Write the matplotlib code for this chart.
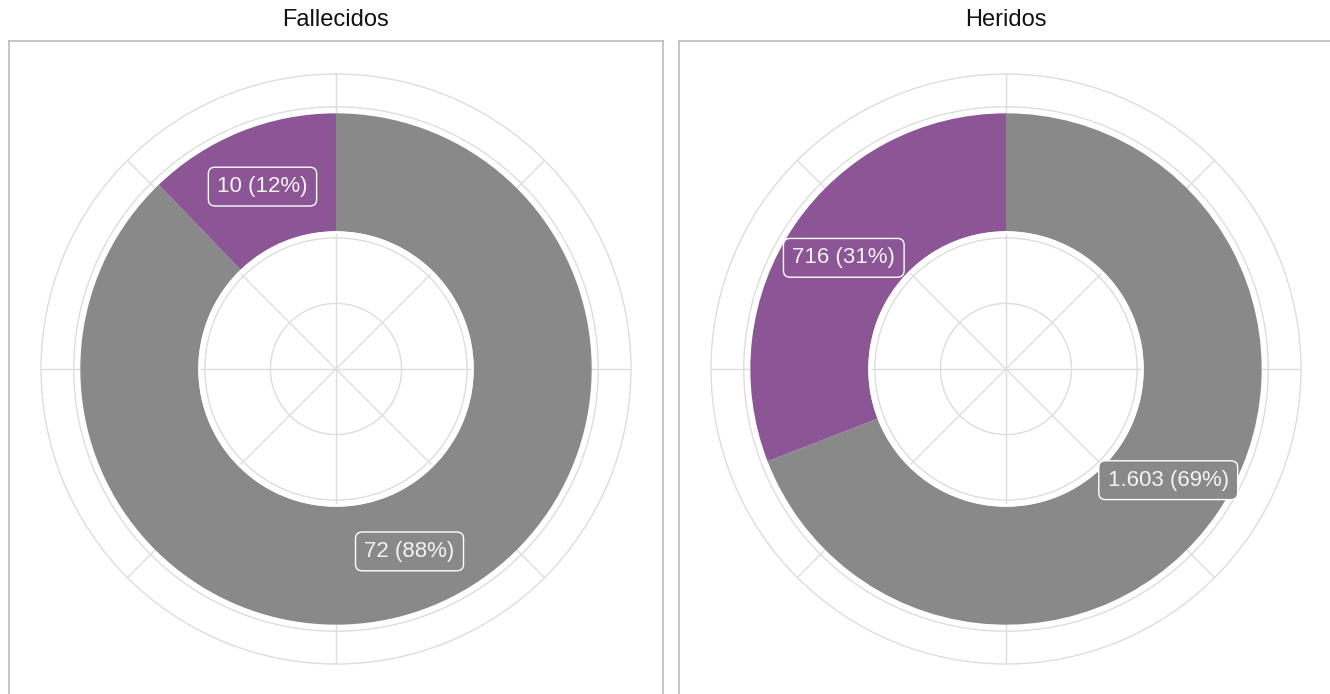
import numpy as np
import matplotlib
matplotlib.use("Agg")
import matplotlib.pyplot as plt

plt.rcParams['font.family'] = ['Liberation Sans', 'DejaVu Sans']

panels = ["Fallecidos", "Heridos"]
categories = ["Otros", "Grupo"]
values = {
    "Fallecidos": [72, 10],
    "Heridos": [1603, 716],
}
labels = {
    "Fallecidos": ["72 (88%)", "10 (12%)"],
    "Heridos": ["1.603 (69%)", "716 (31%)"],
}
colors = ["#898989", "#8C5596"]

W, H = 1330, 694
fig = plt.figure(figsize=(W / 100, H / 100), dpi=100)

inner, outer = 2.1, 3.9
centers_x = [336, 1006]
cy = 369

for name, cx in zip(panels, centers_x):
    # panel frame (bottom runs off the figure)
    fr = fig.add_axes([(cx - 327) / W, (H - (cy + 328)) / H, 654 / W, 656 / H])
    fr.set_xticks([])
    fr.set_yticks([])
    for s in fr.spines.values():
        s.set_color("#BBBBBB")
        s.set_linewidth(1.2)
    fr.patch.set_alpha(0)

    fig.text(cx / W, 1 - 20 / H, name, ha="center", va="center", fontsize=17, color="#111111")

    r = 295
    ax = fig.add_axes([(cx - r) / W, (H - (cy + r)) / H, 2 * r / W, 2 * r / H], projection="polar")
    ax.set_theta_zero_location("N")
    ax.set_theta_direction(-1)
    ax.set_ylim(0, 4.5)
    ax.set_rgrids([1, 2, 3, 4], labels=[])
    ax.set_thetagrids(np.arange(0, 360, 45), labels=[])
    ax.grid(True, color="#DDDDDD", linewidth=1.0)
    ax.spines["polar"].set_color("#DDDDDD")
    ax.spines["polar"].set_linewidth(1.0)
    ax.tick_params(length=0)
    ax.set_axisbelow(True)

    vals = np.array(values[name], dtype=float)
    frac = vals / vals.sum()
    widths = frac * 2 * np.pi
    starts = np.concatenate([[0], np.cumsum(widths)[:-1]])
    ax.bar(starts, outer - inner, width=widths, bottom=inner, align="edge",
           color=colors, edgecolor="none", linewidth=0, zorder=2)
    # white ring around the hole
    th = np.linspace(0, 2 * np.pi, 400)
    ax.plot(th, np.full_like(th, inner - 0.02), color="white", lw=2, zorder=3)

    for st, wd, lab, col in zip(starts, widths, labels[name], colors):
        ax.text(st + wd / 2, (inner + outer) / 2, lab, ha="center", va="center",
                fontsize=16, color="#F4F4F4", zorder=5,
                bbox=dict(boxstyle="round,pad=0.4,rounding_size=0.3", fc=col, ec="white", lw=1))

fig.savefig("out.png", dpi=100)
